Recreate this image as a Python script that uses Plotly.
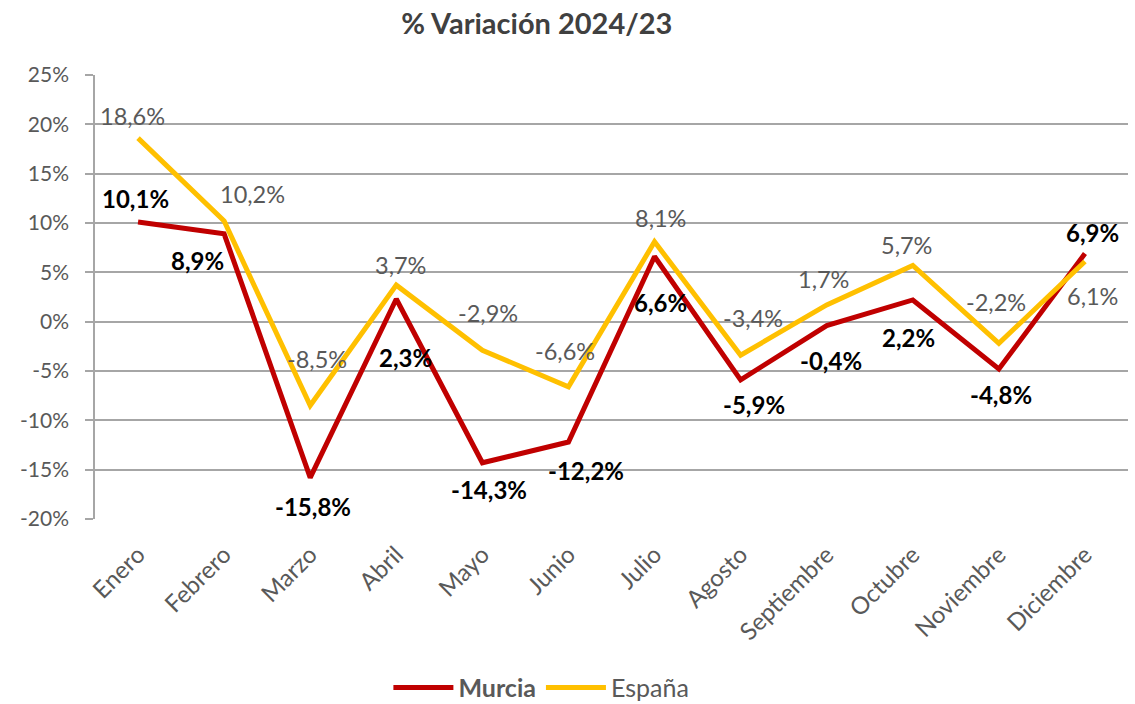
import plotly.graph_objects as go

months = ["Enero", "Febrero", "Marzo", "Abril", "Mayo", "Junio", "Julio",
          "Agosto", "Septiembre", "Octubre", "Noviembre", "Diciembre"]
murcia = [10.1, 8.9, -15.8, 2.3, -14.3, -12.2, 6.6, -5.9, -0.4, 2.2, -4.8, 6.9]
espana = [18.6, 10.2, -8.5, 3.7, -2.9, -6.6, 8.1, -3.4, 1.7, 5.7, -2.2, 6.1]
y_ticks = [-20, -15, -10, -5, 0, 5, 10, 15, 20, 25]

# label offsets (pixels) relative to the data point
murcia_off = [(-3, 24), (-27, -27), (3, -29), (9, -59), (7, -27), (18, -28),
              (6, -46), (13, -25), (4, -35), (-4, -38), (2, -25), (8, 21)]
espana_off = [(-6, 22), (28, 27), (7, 47), (4, 20), (6, 37), (-3, 36),
              (6, 24), (12, 37), (-3, 26), (-6, 20), (-3, 41), (8, -35)]

FONT = "Lato, Carlito, Calibri, sans-serif"
RED = "#C00000"
YEL = "#FFC000"
GRAY = "#595959"


def fmt(v):
    return f"{v:.1f}".replace(".", ",") + "%"


fig = go.Figure()
fig.add_trace(go.Scatter(x=months, y=murcia, mode="lines", name="<b>Murcia</b>",
                         line=dict(color=RED, width=5)))
fig.add_trace(go.Scatter(x=months, y=espana, mode="lines", name="España",
                         line=dict(color=YEL, width=5)))

annotations = []
for m, v, (dx, dy) in zip(months, murcia, murcia_off):
    annotations.append(dict(x=m, y=v, text=f"<b>{fmt(v)}</b>", showarrow=False,
                            xshift=dx, yshift=dy,
                            font=dict(family=FONT, size=24, color="#000000")))
for m, v, (dx, dy) in zip(months, espana, espana_off):
    annotations.append(dict(x=m, y=v, text=fmt(v), showarrow=False,
                            xshift=dx, yshift=dy,
                            font=dict(family=FONT, size=23.5, color=GRAY)))

fig.update_layout(
    width=1135, height=704,
    margin=dict(l=95, r=7, t=75, b=185, autoexpand=False),
    paper_bgcolor="white", plot_bgcolor="white",
    title=dict(text="<b>% Variación 2024/23</b>", x=0.473, xanchor="center",
               y=0.966, yanchor="middle",
               font=dict(family=FONT, size=29, color="#404040")),
    font=dict(family=FONT, size=22, color=GRAY),
    showlegend=True,
    legend=dict(orientation="h", xref="container", x=0.477, xanchor="center",
                y=-0.38, yanchor="middle",
                font=dict(family=FONT, size=25, color=GRAY), itemwidth=60,
                bgcolor="rgba(0,0,0,0)"),
    annotations=annotations,
)
fig.update_xaxes(type="category", range=[-0.5, 11.5], showgrid=False,
                 showline=False, zeroline=False,
                 ticks="", tickangle=-45, automargin=False, ticklabelstandoff=16,
                 tickfont=dict(family=FONT, size=24, color=GRAY))
fig.update_yaxes(range=[-20, 25], tickvals=y_ticks,
                 ticktext=[f"{t}%" for t in y_ticks], automargin=False,
                 showgrid=True, gridcolor="#A6A6A6", gridwidth=1.5,
                 zeroline=False, showline=True, linecolor="#A6A6A6", linewidth=1.5,
                 ticks="outside", ticklen=8, tickcolor="#A6A6A6", tickwidth=1.5,
                 ticklabelstandoff=12,
                 tickfont=dict(family=FONT, size=21, color=GRAY))

fig.write_html("out.html", config={"displayModeBar": False},
               post_script="document.body.style.margin='0';document.body.style.padding='0';")
